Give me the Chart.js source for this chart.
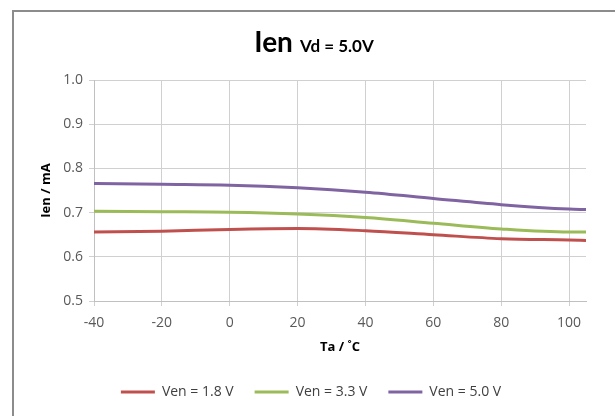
<!DOCTYPE html>
<html>
<head>
<meta charset="utf-8">
<script src="https://cdn.jsdelivr.net/npm/chart.js@4.4.1/dist/chart.umd.min.js"></script>
<style>
    html, body { margin: 0; padding: 0; background: #fff; overflow: hidden; }
    .frame {
        position: absolute; left: 12px; top: 10px; width: 700px; height: 500px;
        border: 2px solid #8c8c8c; box-sizing: border-box;
    }
    .wrap { position: absolute; left: 0; top: 0; width: 615px; height: 416px; }
</style>
</head>
<body>
<div class="frame"></div>
<div class="wrap"><canvas id="ienChart" width="615" height="416"></canvas></div>
<script>
// Temperature points (Ta / °C)
const temps = [-40, -20, 0, 20, 40, 60, 80, 100, 105];

// Ien (mA) per enable voltage
const ven18 = [0.656, 0.658, 0.662, 0.664, 0.659, 0.650, 0.641, 0.638, 0.637];
const ven33 = [0.703, 0.702, 0.701, 0.697, 0.689, 0.676, 0.663, 0.656, 0.656];
const ven50 = [0.766, 0.764, 0.762, 0.756, 0.746, 0.732, 0.718, 0.708, 0.707];

const seriesLabels = ['Ven = 1.8 V', 'Ven = 3.3 V', 'Ven = 5.0 V'];
const seriesColors = ['#c0504d', '#9bbb59', '#8064a2'];

document.addEventListener('DOMContentLoaded', () => {
    const ctx = document.getElementById('ienChart').getContext('2d');

    const toPoints = (vals) => vals.map((v, i) => ({ x: temps[i], y: v }));

    // Title with two font sizes: "Ien" big, "Vd = 5.0V" smaller
    const mixedTitle = {
        id: 'mixedTitle',
        afterDraw(chart) {
            const c = chart.ctx;
            c.save();
            c.fillStyle = '#000';
            c.textBaseline = 'alphabetic';
            const big = 'bold 28px Lato';
            const small = 'bold 17px Lato';
            c.font = big;
            const w1 = c.measureText('Ien').width;
            c.font = small;
            const w2 = c.measureText('Vd = 5.0V').width;
            const gap = 7;
            let x = 314 - (w1 + gap + w2) / 2;
            c.font = big;
            c.fillText('Ien', x, 52);
            c.font = small;
            c.fillText('Vd = 5.0V', x + w1 + gap, 52);
            c.restore();
        }
    };

    new Chart(ctx, {
        type: 'line',
        data: {
            datasets: [ven18, ven33, ven50].map((vals, i) => ({
                label: seriesLabels[i],
                data: toPoints(vals),
                borderColor: seriesColors[i],
                backgroundColor: seriesColors[i],
                borderWidth: 3,
                pointRadius: 0,
                tension: 0.4,
                cubicInterpolationMode: 'monotone',
                fill: false
            }))
        },
        options: {
            responsive: false,
            animation: false,
            layout: {
                padding: { top: 80, left: 36, right: 29, bottom: 7 }
            },
            plugins: {
                title: { display: false },
                tooltip: { enabled: false },
                legend: {
                    position: 'bottom',
                    labels: {
                        usePointStyle: true,
                        pointStyle: 'line',
                        pointStyleWidth: 34,
                        padding: 21,
                        color: '#404040',
                        font: { family: 'Open Sans', size: 14 }
                    }
                }
            },
            scales: {
                x: {
                    type: 'linear',
                    min: -40,
                    max: 105,
                    afterFit: (scale) => { scale.height = 63; },
                    ticks: {
                        stepSize: 20,
                        includeBounds: false,
                        padding: 9,
                        maxRotation: 0,
                        color: '#595959',
                        font: { family: 'Open Sans', size: 14 }
                    },
                    grid: { color: '#d0d0d0', tickLength: 5 },
                    border: { color: '#c0c0c0' },
                    title: {
                        display: true,
                        text: 'Ta / ˚C',
                        color: '#000',
                        padding: { top: 0, bottom: 9 },
                        font: { family: 'Open Sans', size: 13, weight: 'bold' }
                    }
                },
                y: {
                    min: 0.5,
                    max: 1.0,
                    afterFit: (scale) => { scale.width = 58; },
                    ticks: {
                        stepSize: 0.1,
                        padding: 6,
                        color: '#595959',
                        font: { family: 'Open Sans', size: 14 },
                        callback: (v) => v.toFixed(1)
                    },
                    grid: { color: '#d0d0d0', tickLength: 5 },
                    border: { color: '#c0c0c0' },
                    title: {
                        display: true,
                        text: 'Ien / mA',
                        color: '#000',
                        padding: { top: 2, bottom: 0 },
                        font: { family: 'Open Sans', size: 13, weight: 'bold' }
                    }
                }
            }
        },
        plugins: [mixedTitle]
    });
});
</script>
</body>
</html>
